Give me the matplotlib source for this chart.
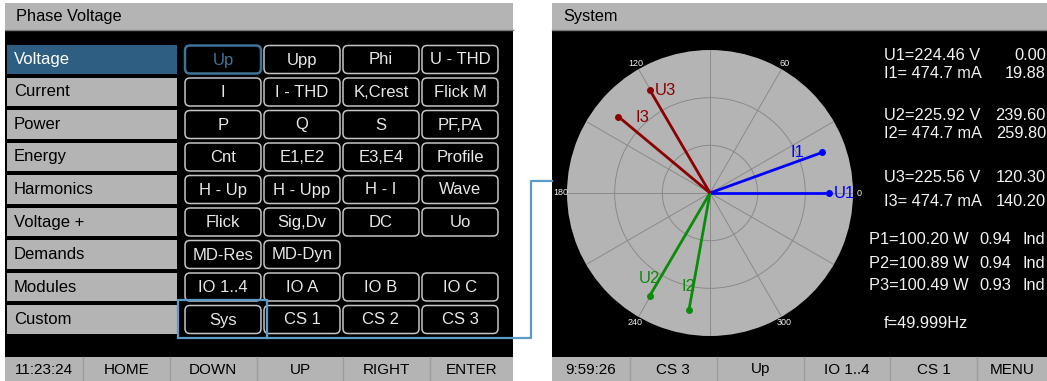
import numpy as np
import matplotlib
matplotlib.use('Agg')
import matplotlib.pyplot as plt
from matplotlib.patches import Rectangle, FancyBboxPatch

plt.rcParams['font.family'] = ['Liberation Sans', 'DejaVu Sans']

# ---------------------------------------------------------------- data
menu_items = ['Voltage', 'Current', 'Power', 'Energy', 'Harmonics',
              'Voltage +', 'Demands', 'Modules', 'Custom']
button_rows = [
    ['Up', 'Upp', 'Phi', 'U - THD'],
    ['I', 'I - THD', 'K,Crest', 'Flick M'],
    ['P', 'Q', 'S', 'PF,PA'],
    ['Cnt', 'E1,E2', 'E3,E4', 'Profile'],
    ['H - Up', 'H - Upp', 'H - I', 'Wave'],
    ['Flick', 'Sig,Dv', 'DC', 'Uo'],
    ['MD-Res', 'MD-Dyn'],
    ['IO 1..4', 'IO A', 'IO B', 'IO C'],
    ['Sys', 'CS 1', 'CS 2', 'CS 3'],
]
left_keys = ['11:23:24', 'HOME', 'DOWN', 'UP', 'RIGHT', 'ENTER']
right_keys = ['9:59:26', 'CS 3', 'Up', 'IO 1..4', 'CS 1', 'MENU']

phases = ['1', '2', '3']
u_volts = [224.46, 225.92, 225.56]
i_ma = [474.7, 474.7, 474.7]
u_deg = [0.00, 239.60, 120.30]
i_deg = [19.88, 259.80, 140.20]
u_len = [1.0, 1.0, 1.0]   # phasor length, normalised
i_len = [1.0, 1.0, 1.0]
p_watt = [100.20, 100.89, 100.49]
p_factor = [0.94, 0.94, 0.93]
freq = 49.999

# ---------------------------------------------------------------- style
W, H = 1047, 381
GRAY = '#b4b4b4'
SEL = '#2e5f82'
LINK = '#5b9bc8'
phase_colors = ['#0000ff', '#0a8c0a', '#8b0000']
# label offsets (pixels) for U/I of each phase
u_off = [(5, 0, 'left'), (0, -17, 'center'), (5, 0, 'left')]
i_off = [(-25, 0, 'center'), (0, -24, 'center'), (24, 1, 'center')]

fig = plt.figure(figsize=(W / 100, H / 100), dpi=100)
fig.patch.set_facecolor('white')
ax = fig.add_axes([0, 0, 1, 1])
ax.set_xlim(0, W)
ax.set_ylim(H, 0)
ax.axis('off')


def panel(x0, x1, title, keys):
    ax.add_patch(Rectangle((x0, 3), x1 - x0, 27, fc=GRAY, ec='none'))
    ax.plot([x0, x1], [29.5, 29.5], color='#7d7d7d', lw=1)
    ax.add_patch(Rectangle((x0, 30), x1 - x0, 327, fc='black', ec='none'))
    ax.add_patch(Rectangle((x0, 357), x1 - x0, 24, fc=GRAY, ec='none'))
    ax.text(x0 + 11, 17, title, fontsize=11.8, color='black', va='center')
    edges = [x0] + [x0 + 78 + 86.8 * k for k in range(5)] + [x1]
    for k, key in enumerate(keys):
        if k > 0:
            ax.plot([edges[k], edges[k]], [357, 381], color='#9c9c9c', lw=1)
        ax.text((edges[k] + edges[k + 1]) / 2, 369.5, key, fontsize=11,
                ha='center', va='center', color='black')


# left panel
panel(5, 513, 'Phase Voltage', left_keys)
for i, name in enumerate(menu_items):
    y0 = 45 + 32.5 * i
    sel = (i == 0)
    ax.add_patch(Rectangle((7, y0), 170, 28.5, fc=SEL if sel else GRAY, ec='none'))
    ax.text(14, y0 + 14.5, name, fontsize=12, va='center',
            color='white' if sel else 'black')

col_x = [185, 264, 343, 422]
for i, row in enumerate(button_rows):
    y0 = 45.5 + 32.5 * i
    for j, lab in enumerate(row):
        hi = (i == 0 and j == 0)
        ax.add_patch(FancyBboxPatch((col_x[j], y0), 76, 28,
                                    boxstyle='round,pad=0,rounding_size=5',
                                    fc='black', ec='#3f7397' if hi else '#c4c4c4',
                                    lw=1.8 if hi else 1.1))
        ax.text(col_x[j] + 38, y0 + 14.5, lab, fontsize=12, ha='center', va='center',
                color='#3f7397' if hi else '#e8e8e8')

# selection box on "Sys" and link to the right panel
ax.add_patch(Rectangle((178, 300), 89, 38, fc='none', ec=LINK, lw=1.6))
ax.plot([267, 531, 531, 552], [338, 338, 181, 181], color=LINK, lw=1.6)

# right panel
panel(552, 1047, 'System', right_keys)

txt = dict(fontsize=11.8, color='#f2f2f2', va='center')
row_y = [(55, 73), (115, 133), (177, 202)]
for k in range(3):
    yu, yi = row_y[k]
    ax.text(884, yu, f'U{phases[k]}={u_volts[k]:.2f} V', **txt)
    ax.text(884, yi, f'I{phases[k]}= {i_ma[k]:.1f} mA', **txt)
    ax.text(1046, yu, f'{u_deg[k]:.2f}', ha='right', **txt)
    ax.text(1046, yi, f'{i_deg[k]:.2f}', ha='right', **txt)
for k, yp in enumerate([240, 263, 285]):
    ax.text(869, yp, f'P{phases[k]}={p_watt[k]:.2f} W', **txt)
    ax.text(979, yp, f'{p_factor[k]:.2f}', **txt)
    ax.text(1022, yp, 'Ind', **txt)
ax.text(884, 323, f'f={freq:.3f}Hz', **txt)

# phasor diagram
cx, cy, R = 710, 193, 143
pax = fig.add_axes([(cx - R) / W, (H - cy - R) / H, 2 * R / W, 2 * R / H],
                   projection='polar')
pax.set_facecolor(GRAY)
pax.set_ylim(0, 1.2)
pax.set_rticks([0.4, 0.8])
pax.set_yticklabels([])
angles = np.arange(0, 360, 30)
pax.set_thetagrids(angles, labels=[str(a) if a % 60 == 0 else '' for a in angles])
pax.tick_params(axis='x', colors='#f0f0f0', labelsize=6.5, pad=-6)
pax.grid(color='#8a8a8a', lw=0.7)
pax.spines['polar'].set_visible(False)

for k in range(3):
    c = phase_colors[k]
    for deg, ln, nm, off in [(u_deg[k], u_len[k], 'U', u_off[k]),
                             (i_deg[k], i_len[k], 'I', i_off[k])]:
        th = np.deg2rad(deg)
        pax.plot([0, th], [0, ln], color=c, lw=2, solid_capstyle='butt')
        pax.plot([th], [ln], 'o', color=c, ms=4)
        pax.annotate(nm + phases[k], (th, ln), xytext=(off[0] * 0.72, -off[1] * 0.72),
                     textcoords='offset points', ha=off[2], va='center',
                     color=c, fontsize=12, annotation_clip=False)

fig.savefig('out.png', dpi=100, facecolor='white')
